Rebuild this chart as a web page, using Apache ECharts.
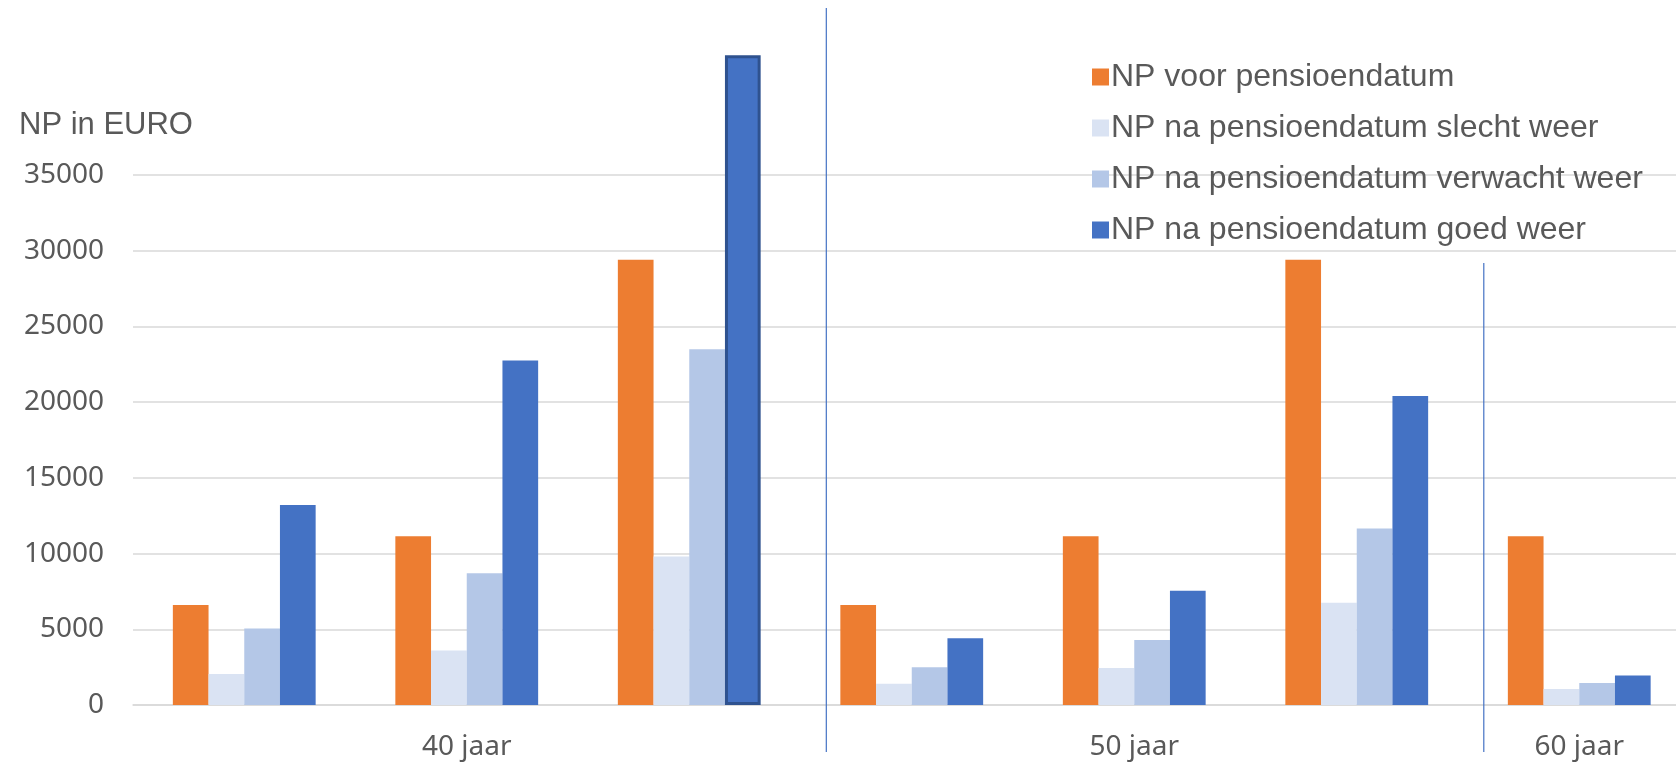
<!DOCTYPE html>
<html>
<head>
<meta charset="utf-8">
<script src="https://cdn.jsdelivr.net/npm/echarts@6/dist/echarts.min.js"></script>
<style>
    html, body {margin:0;padding:0;background:#ffffff;}
    #chart {width:1676px;height:764px;}
</style>
</head>
<body>
<div id="chart"></div>
<script>
    // categorieen (leeftijdsgroepen, 3 + 3 + 1 staven-groepen)
    var categories = ['40 jaar', '40 jaar', '40 jaar', '50 jaar', '50 jaar', '50 jaar', '60 jaar'];
    var yTicks = [0, 5000, 10000, 15000, 20000, 25000, 30000, 35000];

    var seriesNames = [
        'NP voor pensioendatum',
        'NP na pensioendatum slecht weer',
        'NP na pensioendatum verwacht weer',
        'NP na pensioendatum goed weer'
    ];
    var npVoor     = [6600, 11150, 29400, 6600, 11150, 29400, 11150];
    var npSlecht   = [2050, 3600, 9800, 1400, 2450, 6750, 1050];
    var npVerwacht = [5050, 8700, 23500, 2500, 4300, 11650, 1450];
    var npGoed     = [13200, 22750, 42900, 4400, 7550, 20400, 1950];

    var colors = ['#ED7D31', '#DAE3F3', '#B4C7E7', '#4472C4'];
    var grey = '#595959';

    var chart = echarts.init(document.getElementById('chart'));

    function barSeries(name, values, color) {
        return {
            name: name,
            type: 'bar',
            barWidth: 35.7,
            barGap: '0%',
            clip: false,
            itemStyle: {color: color},
            data: values.slice()
        };
    }

    var blue = barSeries(seriesNames[3], npGoed, colors[3]);
    // de geselecteerde staaf heeft een donkere rand
    blue.data[2] = {value: npGoed[2], itemStyle: {borderColor: '#2F528F', borderWidth: 3}};

    var option = {
        animation: false,
        title: {
            text: 'NP in EURO',
            left: 19,
            top: 110,
            padding: 0,
            textStyle: {fontFamily: 'Liberation Sans', fontSize: 31, fontWeight: 'normal', color: grey}
        },
        legend: {
            orient: 'vertical',
            left: 1087,
            top: 56,
            icon: 'rect',
            itemWidth: 17,
            itemHeight: 17,
            itemGap: 19,
            textStyle: {fontFamily: 'Liberation Sans', fontSize: 32, color: grey, lineHeight: 32, padding: [0, 0, 0, -3]},
            data: seriesNames
        },
        // het plotgebied loopt rechts iets buiten het beeld door
        grid: {left: 133, right: -14.5, top: 175, bottom: 59, outerBoundsMode: 'none', containLabel: false},
        xAxis: {
            type: 'category',
            data: categories,
            axisTick: {show: false},
            axisLine: {lineStyle: {color: '#D9D9D9', width: 1.5}},
            axisLabel: {
                interval: 0,
                margin: 28,
                fontFamily: 'Noto Sans',
                fontSize: 28,
                color: grey,
                formatter: function (val, idx) {
                    return (idx === 1 || idx === 4 || idx === 6) ? val : '';
                }
            }
        },
        yAxis: {
            type: 'value',
            min: yTicks[0],
            max: yTicks[yTicks.length - 1],
            interval: yTicks[1] - yTicks[0],
            axisLine: {show: false},
            axisTick: {show: false},
            axisLabel: {
                margin: 29,
                fontFamily: 'Noto Sans',
                fontSize: 28,
                color: grey,
                formatter: function (v) { return String(v); }
            },
            splitLine: {lineStyle: {color: '#D9D9D9', width: 1.5}}
        },
        series: [
            barSeries(seriesNames[0], npVoor, colors[0]),
            barSeries(seriesNames[1], npSlecht, colors[1]),
            barSeries(seriesNames[2], npVerwacht, colors[2]),
            blue
        ]
    };

    chart.setOption(option);

    // scheidingslijnen tussen de leeftijdsgroepen
    var c3 = chart.convertToPixel({xAxisIndex: 0}, 2);
    var c4 = chart.convertToPixel({xAxisIndex: 0}, 3);
    var c6 = chart.convertToPixel({xAxisIndex: 0}, 5);
    var band = c4 - c3;
    var x1 = c3 + band * 0.616;
    var x2 = c6 + band * 0.571;
    chart.setOption({
        graphic: [
            {type: 'line', shape: {x1: x1, y1: 8, x2: x1, y2: 752}, style: {stroke: '#4472C4', lineWidth: 1.2}, z: 10},
            {type: 'line', shape: {x1: x2, y1: 263, x2: x2, y2: 752}, style: {stroke: '#4472C4', lineWidth: 1.2}, z: 10}
        ]
    });

    window.onresize = function () {
        chart.resize();
    };
</script>
</body>
</html>
